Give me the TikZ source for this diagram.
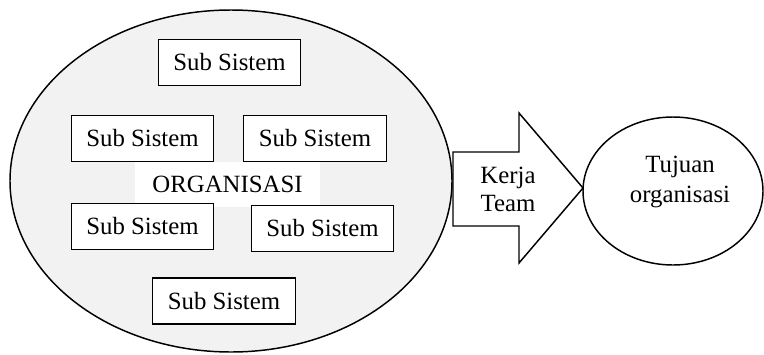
\documentclass[tikz,border=0pt]{standalone}
\usepackage{fontspec}
\setmainfont{Liberation Serif}
\usetikzlibrary{shapes.geometric}
\begin{document}
\begin{tikzpicture}[x=0.75pt,y=-0.75pt,
  outline/.style={draw=black, line width=1.1pt},
  txt/.style={font=\fontsize{18.6}{21}\selectfont, align=center, inner sep=0pt},
  subbox/.style={txt, draw=black, line width=0.9pt, fill=white,
    minimum width=107pt, minimum height=34.5pt}]
\path[fill=white] (0,0) rectangle (764,354);
\useasboundingbox (0,0) rectangle (764,354);

% the organisation and its sub systems
\node[outline, ellipse, fill=black!5, minimum width=331.5pt,
      minimum height=256.5pt, inner sep=0pt] (org) at (231,181) {};
\node[txt, fill=white, minimum width=138.75pt, minimum height=33.75pt]
      (orglabel) at (227.5,184.5) {ORGANISASI};
\node[subbox] (s1) at (229.5,62.5) {Sub Sistem};
\node[subbox] (s2) at (142.5,138.5) {Sub Sistem};
\node[subbox] (s3) at (315,138.5) {Sub Sistem};
\node[subbox] (s4) at (142.5,226.5) {Sub Sistem};
\node[subbox] (s5) at (322.5,228.5) {Sub Sistem};
\node[subbox] (s6) at (224,301) {Sub Sistem};

% block arrow: team work
\draw[outline, fill=white, line join=miter]
  (453,152) -- (519,152) -- (519,113) -- (583,188) -- (519,263)
  -- (519,226) -- (453,226) -- cycle;
\node[txt] (team) at (508,189) {Kerja\\Team};

% the goal
\node[outline, ellipse, fill=white, minimum width=135pt,
      minimum height=111pt, inner sep=0pt] (goal) at (673,191) {};
\node[txt, font=\fontsize{18.6}{23}\selectfont] (goallabel) at (680,182)
  {Tujuan\\organisasi};
\end{tikzpicture}
\end{document}
